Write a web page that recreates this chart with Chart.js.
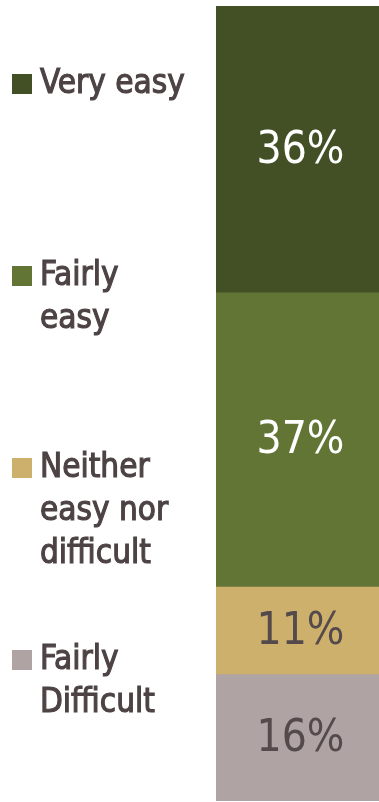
<!DOCTYPE html>
<html>
<head>
<meta charset="utf-8">
<script src="https://cdn.jsdelivr.net/npm/chart.js@4/dist/chart.umd.min.js"></script>
<style>
  html, body { margin: 0; padding: 0; background: #ffffff; }
  #wrap { width: 379px; height: 802px; position: relative; }
</style>
</head>
<body>
<div id="wrap"><canvas id="c"></canvas></div>
<script>
// Answer categories, top of the bar first
const categories = [
  ['Very easy'],
  ['Fairly', 'easy'],
  ['Neither', 'easy nor', 'difficult'],
  ['Fairly', 'Difficult']
];
// Share of respondents, percent
const shares = [36, 37, 11, 16];
const valueLabels = ['36%', '37%', '11%', '16%'];
const colors = ['#435025', '#627535', '#cdb06c', '#b0a3a3'];
const labelColors = ['#ffffff', '#ffffff', '#554a4b', '#554a4b'];

const textColor = '#4d4344';
const fontFamily = '"DejaVu Sans Condensed", "DejaVu Sans", sans-serif';

// Value labels centred in each stacked segment
const segmentLabels = {
  id: 'segmentLabels',
  afterDatasetsDraw(chart) {
    const ctx = chart.ctx;
    ctx.save();
    ctx.font = '44px ' + fontFamily;
    ctx.textAlign = 'center';
    ctx.textBaseline = 'middle';
    chart.data.datasets.forEach((ds, i) => {
      const el = chart.getDatasetMeta(i).data[0];
      const cy = (el.y + el.base) / 2;
      ctx.fillStyle = labelColors[i];
      ctx.fillText(valueLabels[i], el.x + 3, cy + 2);
    });
    ctx.restore();
  }
};

// Legend drawn down the left side, one block per category
const sideLegend = {
  id: 'sideLegend',
  afterDraw(chart, args, opts) {
    const ctx = chart.ctx;
    ctx.save();
    ctx.font = opts.fontSize + 'px ' + fontFamily;
    ctx.textBaseline = 'middle';
    ctx.textAlign = 'left';
    chart.data.datasets.forEach((ds, i) => {
      const y0 = opts.firstY + i * opts.step;
      ctx.fillStyle = ds.backgroundColor;
      ctx.fillRect(opts.boxX, y0 - opts.boxSize / 2, opts.boxSize, opts.boxSize);
      ctx.fillStyle = textColor;
      ctx.strokeStyle = textColor;
      ctx.lineWidth = 1.1;
      categories[i].forEach((line, k) => {
        const ly = y0 + k * opts.lineHeight;
        ctx.fillText(line, opts.textX, ly);
        ctx.strokeText(line, opts.textX, ly);
      });
    });
    ctx.restore();
  }
};

new Chart(document.getElementById('c'), {
  type: 'bar',
  data: {
    labels: [''],
    datasets: categories.map((c, i) => ({
      label: c.join(' '),
      data: [shares[i]],
      backgroundColor: colors[i],
      borderWidth: 0,
      barPercentage: 1,
      categoryPercentage: 1
    }))
  },
  options: {
    responsive: true,
    maintainAspectRatio: false,
    animation: false,
    layout: { padding: { left: 216, right: 0, top: 6, bottom: 1 } },
    scales: {
      x: { stacked: true, display: false },
      y: { stacked: true, display: false, min: 0, max: 100, reverse: true }
    },
    plugins: {
      legend: { display: false },
      tooltip: { enabled: false },
      sideLegend: { firstY: 84, step: 192, boxX: 12, boxSize: 20, textX: 40, fontSize: 33, lineHeight: 43 }
    }
  },
  plugins: [segmentLabels, sideLegend]
});
</script>
</body>
</html>
